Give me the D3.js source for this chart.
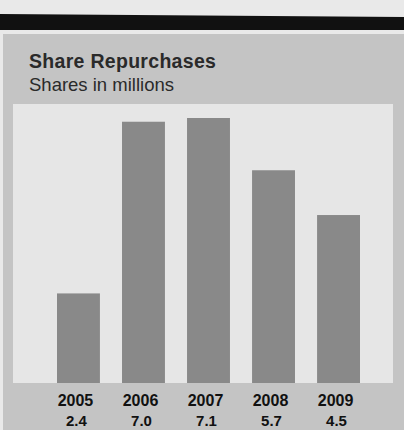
<!DOCTYPE html>
<html>
<head>
<meta charset="utf-8">
<script src="https://cdn.jsdelivr.net/npm/d3@7/dist/d3.min.js"></script>
<style>
  html, body { margin: 0; padding: 0; background: #e9e9e9; }
  svg { display: block; }
</style>
</head>
<body>
<svg id="chart" width="404" height="430"></svg>
<script>
// Share repurchases by year, in millions of shares
const years = ["2005", "2006", "2007", "2008", "2009"];
const shares = [2.4, 7.0, 7.1, 5.7, 4.5];
const valueLabels = ["2.4", "7.0", "7.1", "5.7", "4.5"];

const svg = d3.select("#chart");
const W = 404, H = 430;
const FONT = "Liberation Sans, Arial, sans-serif";

// page backdrop, heading rule, and panel
svg.append("rect").attr("x", 0).attr("y", 0).attr("width", W).attr("height", H).attr("fill", "#e9e9e9");
svg.append("path")
  .attr("d", "M0,14 L404,17 L404,30 L0,30 Z")
  .attr("fill", "#111");
svg.append("rect").attr("x", 3).attr("y", 34).attr("width", W - 3).attr("height", H - 34).attr("fill", "#c4c4c4");

// plot area (lighter inset)
const plot = { left: 13, right: 393, top: 104, bottom: 383 };
svg.append("rect")
  .attr("x", plot.left).attr("y", plot.top)
  .attr("width", plot.right - plot.left).attr("height", plot.bottom - plot.top)
  .attr("fill", "#e6e6e6");

// titles
svg.append("text")
  .attr("x", 29).attr("y", 68)
  .attr("font-family", FONT)
  .attr("font-weight", "bold").attr("font-size", 19.5)
  .attr("letter-spacing", 0.3)
  .attr("fill", "#2a2a2a")
  .text("Share Repurchases");
svg.append("text")
  .attr("x", 29).attr("y", 91)
  .attr("font-family", FONT)
  .attr("font-size", 18.5)
  .attr("fill", "#2a2a2a")
  .text("Shares in millions");

// scales
const x = d3.scaleBand().domain(years).range([57, 360]).paddingInner(0.34).paddingOuter(0);
const y = d3.scaleLinear().domain([0, 7.1]).range([plot.bottom, 118]);

const data = years.map((yr, i) => ({ year: yr, value: shares[i], label: valueLabels[i] }));

// bars
svg.append("g").selectAll("rect").data(data).join("rect")
  .attr("x", d => x(d.year))
  .attr("y", d => y(d.value))
  .attr("width", x.bandwidth())
  .attr("height", d => y(0) - y(d.value))
  .attr("fill", "#898989");

// year axis labels
const axis = d3.axisBottom(x).tickSize(0).tickPadding(0);
const axisG = svg.append("g")
  .attr("transform", `translate(-3,${plot.bottom})`)
  .call(axis);
axisG.select(".domain").remove();
axisG.selectAll("text")
  .attr("y", 23).attr("dy", 0)
  .attr("font-family", FONT)
  .attr("font-weight", "bold").attr("font-size", 16)
  .attr("fill", "#111");

// value labels under each year
svg.append("g").selectAll("text").data(data).join("text")
  .attr("x", d => x(d.year) + x.bandwidth() / 2 - 2)
  .attr("y", 426)
  .attr("text-anchor", "middle")
  .attr("font-family", FONT)
  .attr("font-weight", "bold").attr("font-size", 15)
  .attr("fill", "#111")
  .text(d => d.label);
</script>
</body>
</html>
